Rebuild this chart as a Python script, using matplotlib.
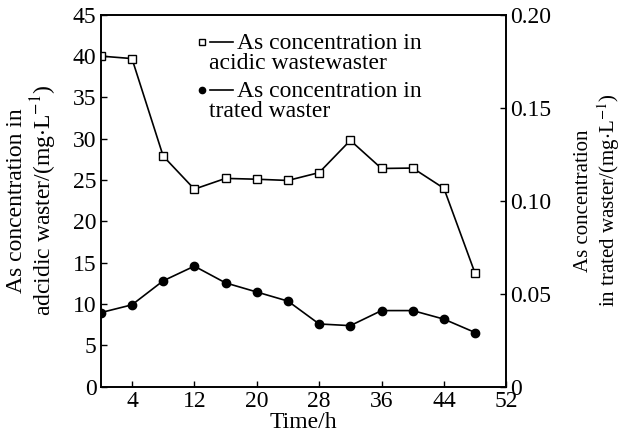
import numpy as np
import matplotlib
matplotlib.use('Agg')
import matplotlib.pyplot as plt

plt.rcParams['font.family'] = 'Liberation Serif'
plt.rcParams['mathtext.fontset'] = 'stix'
plt.rcParams['font.size'] = 17

time_h = [0, 4, 8, 12, 16, 20, 24, 28, 32, 36, 40, 44, 48]
acidic = [40.0, 39.7, 27.9, 23.9, 25.2, 25.1, 24.95, 25.9, 29.8, 26.4, 26.45, 24.0, 13.7]
treated = [0.0398, 0.0440, 0.0569, 0.0648, 0.0558, 0.0509, 0.0460, 0.0337, 0.0328, 0.0409, 0.0409, 0.0363, 0.0291]

xticks = [4, 12, 20, 28, 36, 44, 52]
left_ticks = [0, 5, 10, 15, 20, 25, 30, 35, 40, 45]
right_ticks = [0, 0.05, 0.10, 0.15, 0.20]
right_labels = ['0', '0.05', '0.10', '0.15', '0.20']

fig = plt.figure(figsize=(6.22, 4.48), dpi=100)
ax = fig.add_subplot(111)
fig.subplots_adjust(left=0.162, right=0.814, top=0.967, bottom=0.137)
ax2 = ax.twinx()

ax.plot(time_h, acidic, color='black', lw=1.2, marker='s', ms=5.5,
        mfc='white', mec='black', mew=1.0, zorder=3)
ax2.plot(time_h, treated, color='black', lw=1.2, marker='o', ms=6,
         mfc='black', mec='black', zorder=3)

ax.set_xlim(0, 52)
ax.set_ylim(0, 45)
ax2.set_ylim(0, 0.2)
ax.set_xticks(xticks)
ax.set_yticks(left_ticks)
ax2.set_yticks(right_ticks)
ax2.set_yticklabels(right_labels)

for a in (ax, ax2):
    a.tick_params(direction='in', length=4, width=1.0, pad=3)
    for s in a.spines.values():
        s.set_linewidth(1.2)

ax.set_xlabel('Time/h', labelpad=0)
ax.set_ylabel('As concentration in\nadcidic waster/(mg$\\cdot$L$^{-1}$)', labelpad=10, linespacing=1.05)
ax2.set_ylabel('As concentration\nin trated waster/(mg$\\cdot$L$^{-1}$)', labelpad=16,
               linespacing=1.15, rotation=90, fontsize=15)

# legend drawn by hand: marker, short line, two text lines
ax.plot([0.249], [0.927], transform=ax.transAxes, marker='s', ms=4.5, mfc='white',
        mec='black', mew=1.0, color='black', clip_on=False)
ax.plot([0.269, 0.326], [0.927, 0.927], transform=ax.transAxes, color='black', lw=1.2)
ax.text(0.336, 0.922, 'As concentration in', transform=ax.transAxes, va='center')
ax.text(0.267, 0.868, 'acidic wastewaster', transform=ax.transAxes, va='center')

ax.plot([0.249], [0.798], transform=ax.transAxes, marker='o', ms=4.5, color='black')
ax.plot([0.269, 0.326], [0.798, 0.798], transform=ax.transAxes, color='black', lw=1.2)
ax.text(0.336, 0.793, 'As concentration in', transform=ax.transAxes, va='center')
ax.text(0.267, 0.739, 'trated waster', transform=ax.transAxes, va='center')

fig.savefig('out.png', dpi=100)
